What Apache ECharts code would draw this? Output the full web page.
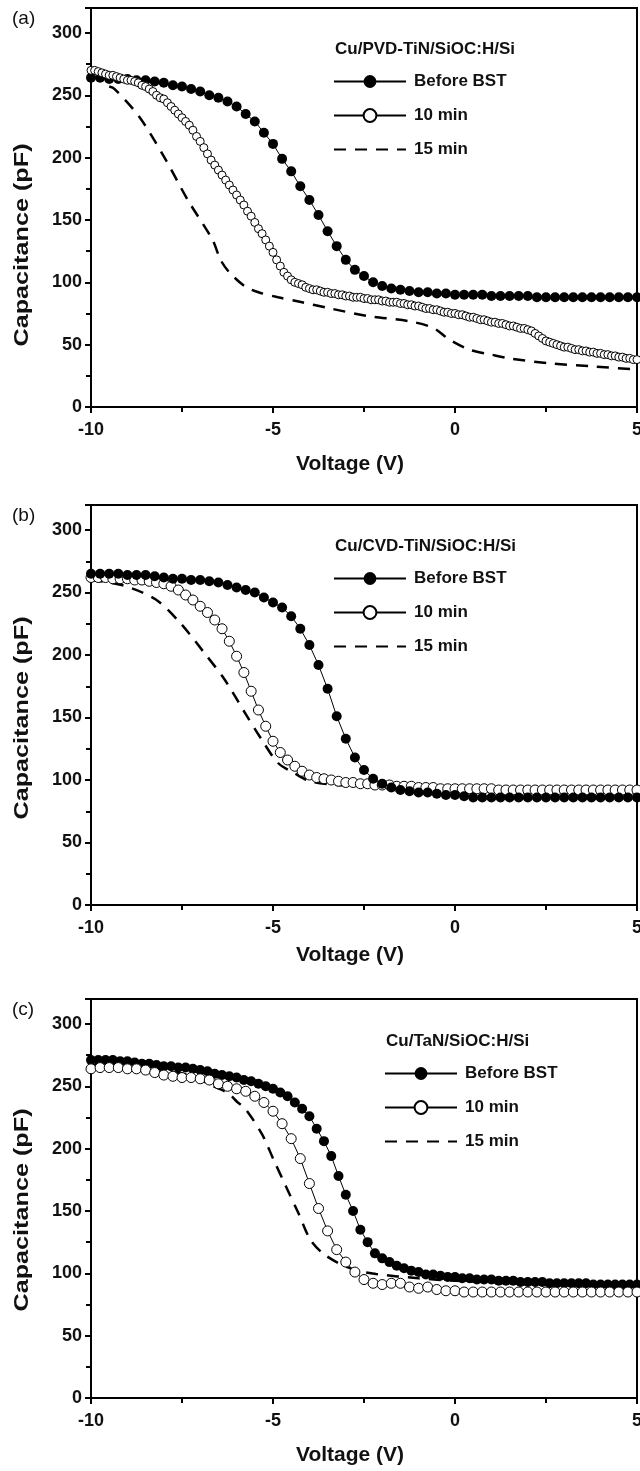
<!DOCTYPE html>
<html>
<head>
<meta charset="utf-8">
<title>C-V curves after BST</title>
<script src="https://cdn.jsdelivr.net/npm/echarts@6/dist/echarts.min.js"></script>
<style>
  html, body { margin: 0; padding: 0; background: #fff; overflow: hidden; }
  #chart { width: 640px; height: 1471px; }
</style>
</head>
<body>
<div id="chart"></div>
<script>
// ---- data (voltage in V, capacitance in pF) ----
var panelNames = ['(a)', '(b)', '(c)'];
var stackNames = ['Cu/PVD-TiN/SiOC:H/Si', 'Cu/CVD-TiN/SiOC:H/Si', 'Cu/TaN/SiOC:H/Si'];
var seriesNames = ['Before BST', '10 min', '15 min'];
var xTicks = [-10, -5, 0, 5];
var yTicks = [0, 50, 100, 150, 200, 250, 300];

// (a) PVD-TiN
var capA_before = [264,264,263,263,263,262,262,261,260,258,
  257,255,253,250,248,245,241,235,229,220,
  211,199,189,177,166,154,141,129,118,110,
  105,100,97,95,94,93,92,92,91,91,
  90,90,90,90,89,89,89,89,89,88,
  88,88,88,88,88,88,88,88,88,88,88];
var capA_10 = [270,270,269,268,267,266,266,265,264,263,
  262,262,261,260,258,257,255,253,250,248,
  247,244,241,238,235,232,229,226,222,217,
  213,208,203,198,194,190,186,182,178,174,
  170,166,162,157,153,148,143,139,134,129,
  124,118,113,108,105,102,100,99,98,96,
  95,94,94,93,92,92,91,91,90,90,
  89,89,88,88,88,87,87,86,86,86,
  85,85,84,84,84,83,83,82,82,81,
  81,80,79,79,78,78,77,76,76,75,
  75,74,74,73,72,72,71,70,70,69,
  68,68,67,67,66,65,65,64,63,63,
  62,61,59,57,55,53,52,51,50,49,
  48,48,47,46,46,45,45,44,44,43,
  43,42,42,41,41,40,40,39,39,38,38];
var voltA_15 = [-9.5,-9.35,-8.68,-8.0,-7.34,-6.66,-6.44,-6.2,-5.76,-5.4,-4.86,-4.2,-3.52,-2.4,-1.3,-0.6,-0.15,0.4,1.0,1.5,2.6,3.8,5];
var capA_15  = [257,255,233,201,166,134,118,108,96.5,92,88,84,79.6,73,69,63.5,54,46,42,39,35,32.5,30];

// (b) CVD-TiN
var capB_before = [265,265,265,265,264,264,264,263,262,261,
  261,260,260,259,258,256,254,252,250,246,
  242,238,231,221,208,192,173,151,133,118,
  108,101,97,94,92,91,90,90,89,88,
  88,87,86,86,86,86,86,86,86,86,
  86,86,86,86,86,86,86,86,86,86,86];
var capB_10 = [262,262,262,261,261,261,260,260,259,258,
  257,255,252,248,244,239,234,228,221,211,
  199,186,171,156,143,131,122,116,111,107,
  104,102,101,100,99,98,98,97,97,96,
  96,96,95,95,95,94,94,94,93,93,
  93,93,93,93,93,93,92,92,92,92,
  92,92,92,92,92,92,92,92,92,92,
  92,92,92,92,92,92];
var voltB_15 = [-10,-9.13,-8.23,-7.56,-6.89,-6.33,-5.77,-5.31,-4.86,-4.42,-3.97,-3.3,-2.4,-1,0,5];
var capB_15  = [260,255.8,244.6,226,201.8,180.4,153.7,132.3,113.6,105.6,98.9,96.2,94.9,93.5,93,92];

// (c) TaN
var capC_before = [271,271,271,271,270,270,269,268,268,267,
  266,266,265,265,264,263,262,260,259,258,
  257,255,254,252,250,248,245,242,237,232,
  226,216,206,194,178,163,150,135,125,116,
  112,109,106,104,102,101,99,99,98,97,
  97,96,96,95,95,95,94,94,94,93,
  93,93,93,92,92,92,92,92,92,91,
  91,91,91,91,91,91];
var capC_10 = [264,265,265,265,264,264,263,261,259,258,
  257,257,256,255,252,250,248,246,242,237,
  230,220,208,192,172,152,134,119,109,101,
  95,92,91,92,92,89,88,89,87,86,
  86,85,85,85,85,85,85,85,85,85,
  85,85,85,85,85,85,85,85,85,85,85];
var voltC_15 = [-10,-9,-8,-7.2,-6.78,-6.21,-5.99,-5.77,-5.31,-4.98,-4.64,-4.3,-3.97,-3.63,-3.19,-2.73,-2.17,-1,0,2,5];
var capC_15  = [267,266,263,258,252,244,237.6,232.3,212,190.9,169.4,148.1,126.7,116,108,102.6,99.4,96,94,92,91];

// voltage sweeps of the marker curves (start, step)
function sweep(start, step, n) {
  var a = [];
  for (var i = 0; i < n; i++) a.push(+(start + i * step).toFixed(3));
  return a;
}
function pairs(xs, ys) {
  return ys.map(function (y, i) { return [xs[i], y]; });
}

var FONT = '"Liberation Sans", Arial, Helvetica, sans-serif';
var grids = [
  { top: 8,   height: 399, xGap: 47, yMid: 245, stackLeft: 335, legendTop: 73 },
  { top: 505, height: 400, xGap: 40, yMid: 718, stackLeft: 335, legendTop: 570 },
  { top: 999, height: 399, xGap: 47, yMid: 1210, stackLeft: 386, legendTop: 1065 }
];

var curves = [
  { before: pairs(sweep(-10, 0.25, capA_before.length), capA_before), bSize: 10,
    ten: pairs(sweep(-10, 0.1, capA_10.length), capA_10), tSize: 8,
    fifteen: pairs(voltA_15, capA_15), openOnTop: true },
  { before: pairs(sweep(-10, 0.25, capB_before.length), capB_before), bSize: 10,
    ten: pairs(sweep(-10, 0.2, capB_10.length), capB_10), tSize: 10,
    fifteen: pairs(voltB_15, capB_15), openOnTop: false },
  { before: pairs(sweep(-10, 0.2, capC_before.length), capC_before), bSize: 10,
    ten: pairs(sweep(-10, 0.25, capC_10.length), capC_10), tSize: 10,
    fifteen: pairs(voltC_15, capC_15), openOnTop: true }
];

var option = {
  animation: false,
  backgroundColor: '#fff',
  grid: [], xAxis: [], yAxis: [], series: [], legend: [], graphic: []
};

grids.forEach(function (g, i) {
  option.grid.push({
    left: 91, right: 3, top: g.top, height: g.height,
    outerBoundsMode: 'none', containLabel: false,
    show: true, borderColor: '#000', borderWidth: 2
  });
  option.xAxis.push({
    type: 'value', gridIndex: i, min: xTicks[0], max: xTicks[xTicks.length - 1], interval: 5,
    name: 'Voltage (V)', nameLocation: 'middle', nameGap: g.xGap,
    nameTextStyle: { fontFamily: FONT, fontWeight: 'bold', fontSize: 21, color: '#111', padding: [0, 28, 0, 0] },
    axisLine: { onZero: false, lineStyle: { color: '#000', width: 2 } },
    axisTick: { length: 6, lineStyle: { width: 2, color: '#000' } },
    minorTick: { show: true, splitNumber: 2, length: 5, lineStyle: { width: 2, color: '#000' } },
    splitLine: { show: false },
    axisLabel: { fontFamily: FONT, fontWeight: 'bold', fontSize: 18, color: '#111', margin: 14 }
  });
  option.yAxis.push({
    type: 'value', gridIndex: i, min: yTicks[0], max: 320, interval: 50,
    axisLine: { onZero: false, lineStyle: { color: '#000', width: 2 } },
    axisTick: { length: 6, lineStyle: { width: 2, color: '#000' } },
    minorTick: { show: true, splitNumber: 2, length: 5, lineStyle: { width: 2, color: '#000' } },
    splitLine: { show: false },
    axisLabel: { fontFamily: FONT, fontWeight: 'bold', fontSize: 18, color: '#111', margin: 9, showMaxLabel: false,
      formatter: function (v) { return yTicks.indexOf(v) > -1 ? String(v) : ''; } }
  });

  var c = curves[i];
  var dashed = {
    name: seriesNames[2], type: 'line', xAxisIndex: i, yAxisIndex: i, data: c.fifteen,
    symbol: 'none', smooth: 0.3,
    itemStyle: { color: 'rgba(0,0,0,0)' },
    lineStyle: { color: '#000', width: 2.5, type: [12, 9] }, z: 2
  };
  var filled = {
    name: seriesNames[0], type: 'line', xAxisIndex: i, yAxisIndex: i, data: c.before,
    symbol: 'circle', symbolSize: c.bSize, showAllSymbol: true,
    itemStyle: { color: '#000' },
    lineStyle: { color: '#000', width: 1 }, z: c.openOnTop ? 3 : 4
  };
  var open = {
    name: seriesNames[1], type: 'line', xAxisIndex: i, yAxisIndex: i, data: c.ten,
    symbol: 'circle', symbolSize: c.tSize, showAllSymbol: true,
    itemStyle: { color: '#fff', borderColor: '#000', borderWidth: 1 },
    lineStyle: { color: '#000', width: 1 }, z: c.openOnTop ? 4 : 3
  };
  option.series.push(dashed, filled, open);

  option.legend.push({
    orient: 'vertical', left: g.stackLeft - 2, top: g.legendTop, padding: 0,
    itemWidth: 72, itemHeight: 16, itemGap: 17,
    data: seriesNames.slice(),
    lineStyle: { width: 2 },
    textStyle: { fontFamily: FONT, fontWeight: 'bold', fontSize: 17, color: '#111', padding: [0, 0, 0, 3] }
  });

  option.graphic.push({
    type: 'text', left: 12, top: g.top + 1,
    style: { text: panelNames[i], font: '19px ' + FONT, fill: '#111' }
  }, {
    type: 'text', x: g.stackLeft, y: g.legendTop - 24,
    style: { text: stackNames[i], font: 'bold 17px ' + FONT, fill: '#111', verticalAlign: 'middle' }
  }, {
    type: 'text', x: 22, y: g.yMid, rotation: Math.PI / 2, scaleX: 1.2,
    style: { text: 'Capacitance (pF)', font: 'bold 21px ' + FONT, fill: '#111', align: 'center', verticalAlign: 'middle' }
  });
});

var chart = echarts.init(document.getElementById('chart'), null, { renderer: 'canvas' });
chart.setOption(option);
</script>
</body>
</html>
